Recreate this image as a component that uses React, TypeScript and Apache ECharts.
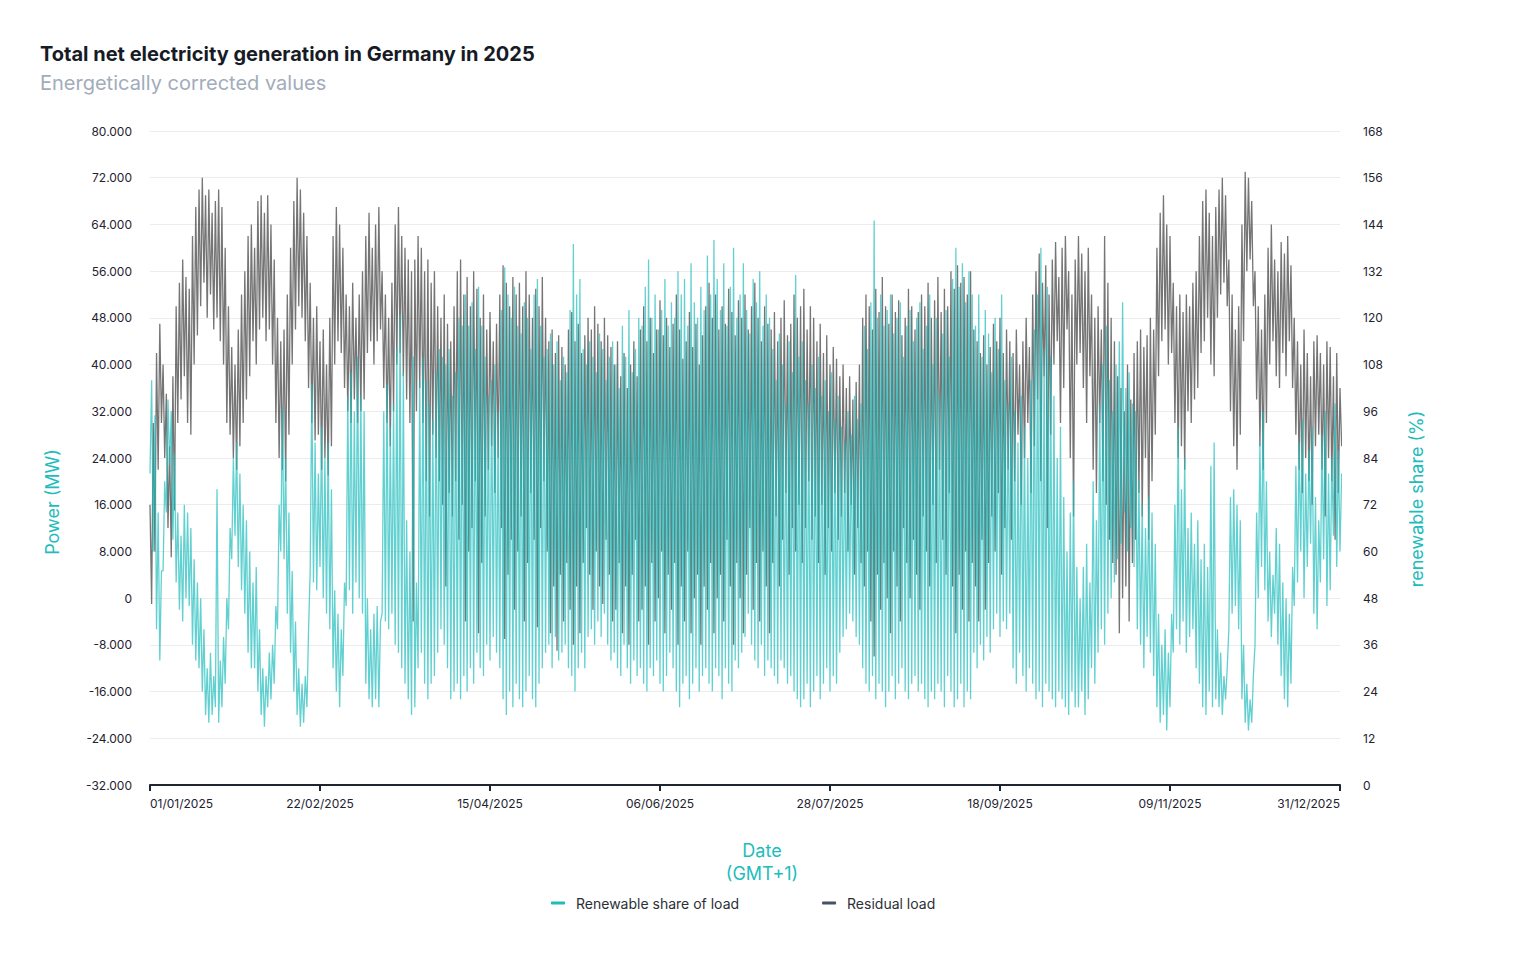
import { useEffect, useRef } from "react";
import * as echarts from "echarts";

// x values are days since 01/01/2025 (0 = 01/01, 364 = 31/12)
const YEAR_START = Date.UTC(2025, 0, 1);
const DAY_MS = 86400000;

// Residual load (MW): daily high (night / evening) and daily low (midday)
const loadHigh = [
  16000, 30000, 42000, 47000, 40000, 35000, 26000, 38000, 50000, 54000,
  58000, 55000, 53000, 62000, 67000, 70000, 72000, 69000, 70000, 66000,
  68000, 70000, 67000, 60000, 50000, 43000, 40000, 46000, 52000, 56000,
  62000, 64000, 60000, 68000, 69000, 66000, 69000, 64000, 58000, 48000,
  44000, 46000, 52000, 60000, 68000, 72000, 70000, 66000, 62000, 54000,
  48000, 50000, 44000, 46000, 40000, 48000, 62000, 67000, 64000, 60000,
  52000, 50000, 54000, 48000, 52000, 56000, 62000, 66000, 60000, 64000,
  67000, 56000, 52000, 48000, 54000, 64000, 67000, 62000, 60000, 58000,
  56000, 58000, 62000, 60000, 56000, 58000, 54000, 56000, 50000, 48000,
  52000, 47000, 44000, 50000, 56000, 58000, 52000, 55000, 50000, 56000,
  53000, 48000, 52000, 46000, 49000, 44000, 47000, 52000, 57000, 54000,
  50000, 55000, 52000, 54000, 50000, 56000, 52000, 48000, 53000, 50000,
  55000, 48000, 44000, 46000, 42000, 45000, 43000, 40000, 46000, 49000,
  44000, 47000, 42000, 45000, 48000, 46000, 50000, 47000, 44000, 48000,
  45000, 43000, 40000, 44000, 38000, 42000, 36000, 40000, 44000, 38000,
  46000, 50000, 44000, 48000, 42000, 46000, 51000, 45000, 48000, 43000,
  47000, 52000, 46000, 41000, 44000, 49000, 43000, 47000, 40000, 45000,
  50000, 54000, 48000, 52000, 46000, 50000, 47000, 53000, 49000, 45000,
  51000, 48000, 52000, 46000, 50000, 54000, 48000, 44000, 50000, 47000,
  46000, 49000, 44000, 48000, 51000, 45000, 47000, 52000, 48000, 50000,
  53000, 46000, 50000, 48000, 44000, 47000, 42000, 45000, 40000, 43000,
  41000, 38000, 40000, 36000, 38000, 34000, 37000, 40000, 48000, 52000,
  50000, 46000, 53000, 49000, 55000, 50000, 47000, 52000, 49000, 51000,
  45000, 48000, 53000, 50000, 46000, 49000, 52000, 50000, 54000, 48000,
  51000, 55000, 49000, 53000, 50000, 56000, 53000, 57000, 54000, 55000,
  52000, 56000, 46000, 44000, 42000, 45000, 40000, 43000, 47000, 44000,
  48000, 42000, 46000, 44000, 42000, 46000, 40000, 44000, 48000, 43000,
  52000, 56000, 59000, 54000, 57000, 52000, 58000, 61000, 55000, 60000,
  62000, 56000, 52000, 58000, 62000, 59000, 56000, 60000, 52000, 48000,
  50000, 46000, 62000, 54000, 48000, 44000, 38000, 36000, 32000, 40000,
  34000, 42000, 44000, 46000, 43000, 45000, 48000, 46000, 60000, 66000,
  69000, 64000, 62000, 54000, 50000, 52000, 49000, 52000, 50000, 54000,
  56000, 62000, 68000, 70000, 66000, 62000, 67000, 70000, 72000, 69000,
  58000, 52000, 46000, 50000, 64000, 73000, 72000, 68000, 56000, 50000,
  46000, 52000, 60000, 64000, 58000, 56000, 61000, 59000, 62000, 57000,
  48000, 44000, 40000, 46000, 42000, 38000, 44000, 45000, 42000, 40000,
  44000, 43000, 38000, 42000, 36000,
];

const loadLow = [
  -1000, 8000, 22000, 30000, 24000, 12000, 7000, 15000, 30000, 34000,
  38000, 30000, 28000, 40000, 45000, 50000, 54000, 48000, 52000, 46000,
  48000, 44000, 40000, 30000, 28000, 24000, 22000, 26000, 30000, 34000,
  38000, 44000, 40000, 46000, 48000, 44000, 46000, 40000, 30000, 24000,
  22000, 20000, 28000, 40000, 46000, 50000, 48000, 44000, 36000, 30000,
  27000, 28000, 22000, 24000, 21000, 26000, 40000, 44000, 42000, 36000,
  32000, 30000, 34000, 30000, 32000, 34000, 42000, 44000, 40000, 44000,
  46000, 36000, 30000, 26000, 32000, 40000, 42000, 38000, 34000, 30000,
  -4000, 32000, 36000, 30000, 20000, 14000, 28000, 24000, 20000, 16000,
  2000, 18000, 14000, 20000, 10000, 16000, -4000, 8000, 12000, 20000,
  -6000, 6000, 14000, 22000, 26000, 18000, 24000, 12000, -7000, 4000,
  10000, -2000, 8000, 14000, -4000, 6000, 18000, 10000, -5000, 12000,
  20000, 8000, -6000, 2000, -9000, 4000, -4000, 6000, -2000, -8000,
  2000, -6000, 6000, 12000, 4000, -2000, 8000, 2000, -1000, 10000,
  4000, -4000, -2000, 6000, -6000, 2000, -8000, 4000, 10000, -4000,
  -2000, 2000, -8000, 6000, -4000, 0, 8000, -6000, 4000, -2000,
  6000, -8000, 2000, -4000, 8000, -6000, 0, 4000, -8000, 2000,
  -2000, 6000, -6000, 0, 4000, -4000, 10000, 2000, -8000, 6000,
  0, -6000, 4000, 12000, -2000, 6000, -4000, 8000, 2000, -6000,
  6000, 14000, 2000, 10000, 18000, 4000, 12000, 8000, 16000, 6000,
  12000, 20000, 10000, 14000, 6000, 16000, 4000, 12000, 8000, 18000,
  10000, 14000, 18000, 8000, 16000, 4000, 12000, 6000, 2000, 8000,
  -4000, -10000, 4000, -2000, 6000, 0, -6000, 8000, 2000, -4000,
  12000, 6000, 0, 10000, 4000, -2000, 14000, 8000, 2000, 16000,
  6000, 22000, 10000, 4000, 18000, 2000, -6000, 4000, -2000, 8000,
  -4000, 6000, 2000, -4000, 10000, -2000, 6000, 14000, 8000, 18000,
  4000, 12000, 22000, 10000, 20000, 28000, 16000, 24000, 30000, 18000,
  26000, 34000, 20000, 38000, 12000, 28000, 40000, 44000, 30000, 36000,
  46000, 24000, 14000, 40000, 42000, 36000, 30000, 38000, 22000, 18000,
  30000, 20000, 16000, 10000, 6000, 4000, -6000, 0, 2000, -4000,
  6000, 10000, 18000, 14000, 24000, 10000, 20000, 28000, 38000, 44000,
  46000, 40000, 42000, 30000, 24000, 26000, 22000, 32000, 30000, 34000,
  36000, 42000, 44000, 48000, 40000, 38000, 48000, 52000, 54000, 50000,
  32000, 26000, 22000, 28000, 44000, 56000, 58000, 50000, 34000, 26000,
  22000, 30000, 40000, 44000, 38000, 36000, 42000, 38000, 44000, 36000,
  28000, 22000, 18000, 24000, 20000, 16000, 26000, 28000, 22000, 14000,
  24000, 20000, 10000, 18000, 26000,
];

// Renewable share of load (%): daily high (midday) and daily low (night)
const shareHigh = [
  104, 95, 70, 55, 78, 99, 96, 85, 70, 64,
  72, 70, 66, 58, 52, 48, 40, 30, 34, 28,
  76, 32, 38, 48, 66, 84, 88, 80, 72, 68,
  60, 52, 56, 40, 30, 28, 34, 36, 46, 72,
  97, 84, 70, 55, 42, 30, 26, 28, 40, 103,
  88, 80, 92, 84, 88, 76, 50, 44, 40, 52,
  100, 106, 96, 110, 100, 96, 48, 40, 44, 46,
  42, 96, 103, 92, 98, 112, 121, 106, 68, 60,
  110, 52, 104, 110, 104, 98, 94, 106, 112, 110,
  108, 112, 100, 106, 120, 118, 126, 118, 124, 112,
  128, 118, 110, 100, 104, 108, 96, 122, 133, 126,
  120, 128, 118, 116, 124, 120, 112, 126, 130, 118,
  110, 112, 116, 108, 114, 104, 110, 106, 122, 139,
  126, 130, 112, 108, 114, 110, 106, 116, 112, 104,
  110, 114, 108, 102, 118, 110, 122, 106, 112, 120,
  118, 128, 135, 120, 126, 117, 122, 130, 118, 124,
  120, 132, 126, 130, 118, 134, 124, 120, 128, 122,
  136, 126, 140, 130, 122, 134, 118, 128, 138, 120,
  126, 134, 122, 116, 130, 124, 132, 118, 126, 120,
  112, 104, 116, 108, 98, 114, 106, 131, 110, 114,
  104, 98, 108, 102, 110, 100, 104, 96, 106, 94,
  100, 92, 88, 96, 90, 100, 94, 98, 118, 112,
  124, 145, 120, 126, 118, 122, 126, 116, 120, 124,
  110, 118, 122, 114, 120, 124, 112, 118, 126, 108,
  120, 100, 116, 122, 110, 130, 138, 128, 134, 124,
  132, 126, 118, 126, 110, 122, 116, 106, 120, 112,
  126, 104, 98, 110, 96, 88, 100, 92, 84, 104,
  117, 126, 138, 112, 128, 110, 100, 84, 92, 74,
  60, 70, 78, 56, 48, 56, 62, 52, 78, 68,
  98, 108, 118, 104, 96, 108, 114, 124, 102, 106,
  98, 96, 78, 72, 66, 74, 70, 62, 44, 36,
  40, 34, 44, 72, 92, 76, 84, 66, 70, 62,
  68, 58, 62, 56, 82, 88, 40, 34, 28, 30,
  74, 76, 72, 68, 36, 26, 22, 28, 70, 88,
  96, 78, 60, 54, 66, 62, 52, 48, 44, 56,
  82, 88, 94, 80, 86, 92, 74, 68, 90, 96,
  80, 84, 98, 86, 80,
];

const shareLow = [
  80, 60, 40, 32, 55, 70, 82, 63, 52, 45,
  42, 48, 46, 36, 32, 30, 24, 18, 16, 18,
  20, 16, 20, 26, 40, 58, 64, 56, 50, 44,
  34, 30, 30, 24, 18, 15, 20, 22, 26, 40,
  60, 58, 44, 34, 24, 18, 15, 16, 20, 55,
  52, 50, 56, 48, 44, 40, 30, 24, 20, 28,
  46, 50, 44, 52, 48, 44, 26, 22, 20, 22,
  20, 44, 42, 40, 44, 36, 34, 30, 26, 22,
  18, 20, 30, 34, 26, 22, 26, 28, 34, 40,
  36, 30, 22, 24, 26, 22, 28, 24, 30, 26,
  34, 30, 28, 36, 32, 38, 34, 30, 22, 18,
  24, 20, 26, 22, 20, 24, 28, 22, 20, 26,
  30, 34, 36, 30, 38, 32, 34, 36, 30, 28,
  24, 30, 34, 30, 38, 40, 36, 42, 38, 44,
  36, 32, 34, 30, 28, 36, 30, 26, 32, 28,
  30, 26, 24, 30, 28, 32, 26, 24, 28, 34,
  30, 24, 20, 26, 28, 22, 26, 30, 24, 28,
  30, 26, 24, 30, 28, 22, 30, 26, 24, 32,
  30, 34, 38, 44, 36, 32, 30, 36, 28, 32,
  30, 28, 26, 32, 30, 26, 28, 24, 22, 20,
  22, 26, 20, 24, 28, 22, 26, 30, 24, 28,
  26, 34, 38, 40, 44, 42, 38, 36, 30, 26,
  24, 28, 22, 26, 24, 20, 24, 28, 22, 26,
  30, 24, 22, 26, 28, 24, 26, 22, 20, 24,
  22, 26, 24, 20, 28, 24, 20, 22, 26, 20,
  24, 22, 34, 30, 36, 32, 38, 34, 40, 44,
  38, 42, 40, 44, 30, 26, 34, 28, 24, 30,
  26, 22, 24, 20, 26, 24, 22, 20, 24, 22,
  20, 18, 24, 20, 20, 24, 18, 22, 30, 26,
  34, 40, 36, 44, 48, 52, 58, 62, 70, 60,
  66, 56, 40, 36, 30, 38, 34, 28, 20, 16,
  18, 14, 20, 34, 40, 36, 42, 34, 38, 40,
  30, 26, 20, 18, 24, 20, 22, 20, 18, 22,
  40, 44, 46, 40, 22, 16, 14, 16, 36, 48,
  56, 50, 42, 38, 44, 36, 28, 22, 20, 26,
  46, 52, 60, 48, 56, 62, 44, 40, 52, 58,
  46, 50, 64, 56, 60,
];

const FONT = "Inter, 'Noto Sans', sans-serif";
const TEAL = "#1fbcbc";

const pad2 = (n: number) => (n < 10 ? "0" + n : "" + n);
const dayLabel = (v: number) => {
  const d = new Date(YEAR_START + v * DAY_MS);
  return `${pad2(d.getUTCDate())}/${pad2(d.getUTCMonth() + 1)}/${d.getUTCFullYear()}`;
};
const thousands = (v: number) => {
  const s = Math.abs(v).toString().replace(/\B(?=(\d{3})+(?!\d))/g, ".");
  return (v < 0 ? "-" : "") + s;
};

export default function App() {
  const chartRef = useRef<HTMLDivElement>(null);

  useEffect(() => {
    if (!chartRef.current) return;
    document.body.style.margin = "0";
    const chart = echarts.init(chartRef.current, undefined, { renderer: "svg" });

    // night point at d, midday point at d + 0.5
    const shareData: number[][] = [];
    const loadData: number[][] = [];
    shareLow.forEach((v, d) => {
      shareData.push([d, v], [d + 0.5, shareHigh[d]]);
    });
    loadHigh.forEach((v, d) => {
      loadData.push([d, v], [d + 0.5, loadLow[d]]);
    });

    const option: echarts.EChartsOption = {
      animation: false,
      textStyle: { fontFamily: FONT },
      title: {
        text: "Total net electricity generation in Germany in 2025",
        subtext: "Energetically corrected values",
        left: 35,
        top: 39,
        itemGap: 9,
        textStyle: { fontSize: 20, fontWeight: 700, color: "#161b26", fontFamily: FONT },
        subtextStyle: { fontSize: 20, color: "#a2acba", fontFamily: FONT },
      },
      legend: {
        left: 546,
        top: 891,
        itemWidth: 14,
        itemHeight: 3,
        itemGap: 83,
        icon: "roundRect",
        textStyle: { fontSize: 14, color: "#2b2f36", fontFamily: FONT, padding: [0, 0, 0, 6] },
        data: ["Renewable share of load", "Residual load"],
      },
      grid: { left: 150, right: 181, top: 131, bottom: 171 },
      xAxis: {
        type: "value",
        min: 0,
        max: 364,
        interval: 52,
        axisLine: { onZero: false, lineStyle: { color: "#1e2430", width: 2 } },
        axisTick: { show: true, length: 6, lineStyle: { color: "#1e2430", width: 2 } },
        axisLabel: {
          formatter: dayLabel,
          color: "#1e2430",
          fontSize: 12,
          margin: 12,
          fontFamily: FONT,
          alignMinLabel: "left",
          alignMaxLabel: "right",
        },
        splitLine: { show: false },
      },
      yAxis: [
        {
          type: "value",
          min: -32000,
          max: 80000,
          interval: 8000,
          position: "left",
          axisLine: { show: false },
          axisTick: { show: false },
          axisLabel: { formatter: thousands, color: "#1e2430", fontSize: 12, margin: 18, fontFamily: FONT },
          splitLine: { lineStyle: { color: "#ececec" } },
        },
        {
          type: "value",
          min: 0,
          max: 168,
          interval: 12,
          position: "right",
          axisLine: { show: false },
          axisTick: { show: false },
          axisLabel: { color: "#1e2430", fontSize: 12, margin: 23, fontFamily: FONT },
          splitLine: { show: false },
        },
      ],
      graphic: [
        {
          type: "text",
          x: 52,
          y: 502,
          rotation: Math.PI / 2,
          style: {
            text: "Power (MW)",
            fill: TEAL,
            fontSize: 18,
            fontFamily: FONT,
            textAlign: "center",
            textVerticalAlign: "middle",
          },
        },
        {
          type: "text",
          x: 1416,
          y: 499,
          rotation: Math.PI / 2,
          style: {
            text: "renewable share (%)",
            fill: TEAL,
            fontSize: 18,
            fontFamily: FONT,
            textAlign: "center",
            textVerticalAlign: "middle",
          },
        },
        {
          type: "text",
          x: 762,
          y: 862,
          style: {
            text: "Date\n(GMT+1)",
            fill: TEAL,
            fontSize: 18,
            lineHeight: 23,
            fontFamily: FONT,
            textAlign: "center",
            textVerticalAlign: "middle",
          },
        },
      ],
      series: [
        {
          name: "Renewable share of load",
          type: "line",
          yAxisIndex: 1,
          z: 3,
          data: shareData,
          showSymbol: false,
          symbol: "none",
          itemStyle: { color: TEAL },
          lineStyle: { color: TEAL, width: 1.3, opacity: 0.7 },
          emphasis: { disabled: true },
        },
        {
          name: "Residual load",
          type: "line",
          yAxisIndex: 0,
          z: 2,
          data: loadData,
          showSymbol: false,
          symbol: "none",
          itemStyle: { color: "#465266" },
          lineStyle: { color: "#3a3a3a", width: 1.3, opacity: 0.7 },
          emphasis: { disabled: true },
        },
      ],
    };

    chart.setOption(option);
    return () => chart.dispose();
  }, []);

  return <div ref={chartRef} style={{ width: 1521, height: 956 }} />;
}
